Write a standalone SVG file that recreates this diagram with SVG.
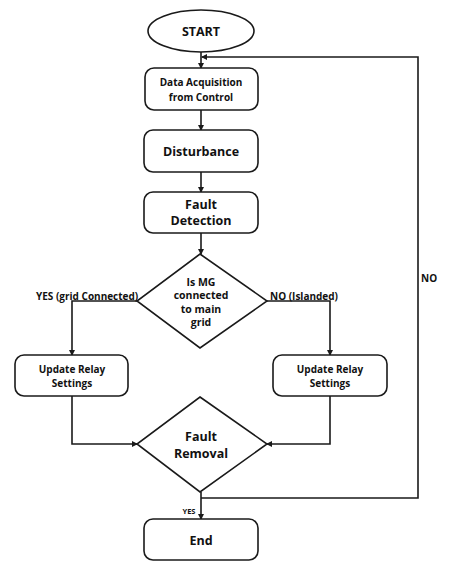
<svg xmlns="http://www.w3.org/2000/svg" width="466" height="573" viewBox="0 0 466 573">
<style>
.box{fill:#fff;stroke:#1a1a1a;stroke-width:1.6}
.ln{fill:none;stroke:#1a1a1a;stroke-width:1.6}
text{font-family:"Open Sans","DejaVu Sans",sans-serif;font-weight:bold;fill:#111;text-anchor:middle}
.t13{font-size:12.5px}
.t11{font-size:10.5px}
.t10{font-size:10px}
.t9{font-size:9px}
.t8{font-size:7.5px}
</style>
<defs>
<marker id="ah" markerWidth="6" markerHeight="6" refX="5" refY="3" orient="auto" markerUnits="userSpaceOnUse">
<path d="M0,0 L6,3 L0,6 Z" fill="#1a1a1a"/>
</marker>
</defs>
<rect width="466" height="573" fill="#fff"/>
<g id="connectors">
<line class="ln" x1="201" y1="52" x2="201" y2="68" marker-end="url(#ah)"/>
<polyline class="ln" points="201,498 418,498 418,57 202,57" marker-end="url(#ah)"/>
<line class="ln" x1="201" y1="110" x2="201" y2="130" marker-end="url(#ah)"/>
<line class="ln" x1="201" y1="172" x2="201" y2="192" marker-end="url(#ah)"/>
<line class="ln" x1="201" y1="233" x2="201" y2="254" marker-end="url(#ah)"/>
<polyline class="ln" points="137,301 72,301 72,355" marker-end="url(#ah)"/>
<polyline class="ln" points="267,301 330,301 330,355" marker-end="url(#ah)"/>
<polyline class="ln" points="72,396 72,444 137,444" marker-end="url(#ah)"/>
<polyline class="ln" points="330,396 330,444 267,444" marker-end="url(#ah)"/>
<line class="ln" x1="201" y1="492" x2="201" y2="519" marker-end="url(#ah)"/>
<text class="t10" x="36" y="300" style="text-anchor:start">YES (grid Connected)</text>
<text class="t10" x="270" y="300" style="text-anchor:start">NO (Islanded)</text>
<text class="t10" x="421" y="282" style="text-anchor:start">NO</text>
<text class="t8" x="189" y="514">YES</text>
</g>
<g id="start">
<ellipse class="box" cx="201" cy="31" rx="53" ry="21"/>
<text class="t13" x="201" y="36">START</text>
</g>
<g id="data-acquisition">
<rect class="box" x="145" y="68" width="113" height="42" rx="9"/>
<text class="t10" x="201" y="86">Data Acquisition</text>
<text class="t10" x="201" y="101">from Control</text>
</g>
<g id="disturbance">
<rect class="box" x="144" y="130" width="114" height="42" rx="9"/>
<text class="t13" x="201" y="156">Disturbance</text>
</g>
<g id="fault-detection">
<rect class="box" x="144" y="192" width="114" height="41" rx="9"/>
<text class="t13" x="201" y="209">Fault</text>
<text class="t13" x="201" y="225">Detection</text>
</g>
<g id="is-mg-connected">
<polygon class="box" points="200,254 267,301 200,348 137,301"/>
<text class="t11" x="201" y="286">Is MG</text>
<text class="t11" x="201" y="299">connected</text>
<text class="t11" x="201" y="313">to main</text>
<text class="t11" x="201" y="326">grid</text>
</g>
<g id="update-relay-left">
<rect class="box" x="15" y="355" width="113" height="41" rx="9"/>
<text class="t10" x="72" y="373">Update Relay</text>
<text class="t10" x="72" y="387">Settings</text>
</g>
<g id="update-relay-right">
<rect class="box" x="273" y="355" width="114" height="41" rx="9"/>
<text class="t10" x="330" y="373">Update Relay</text>
<text class="t10" x="330" y="387">Settings</text>
</g>
<g id="fault-removal">
<polygon class="box" points="200,397 267,444 200,492 137,444"/>
<text class="t13" x="201" y="441">Fault</text>
<text class="t13" x="201" y="458">Removal</text>
</g>
<g id="end">
<rect class="box" x="144" y="519" width="114" height="41" rx="9"/>
<text class="t13" x="201" y="545">End</text>
</g>
</svg>
